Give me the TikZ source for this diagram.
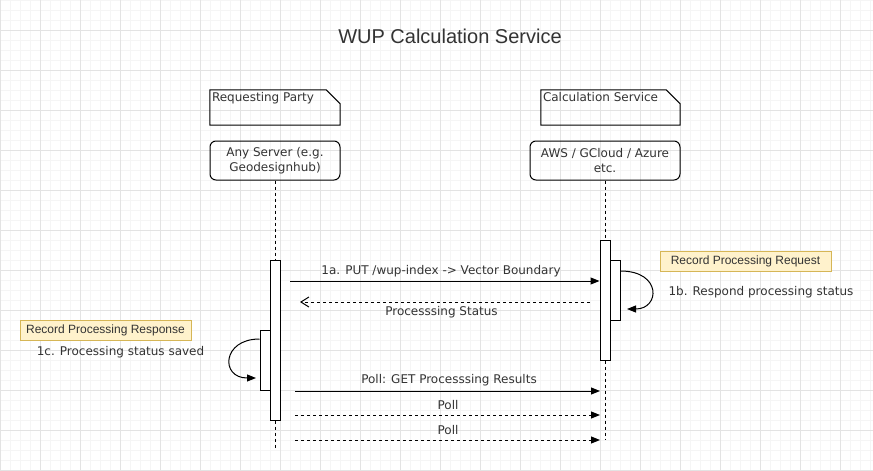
\documentclass[tikz,border=0pt]{standalone}
\usepackage{fontspec}
\setmainfont{Liberation Sans}
\newfontfamily\lblfont{DejaVu Sans}
\usetikzlibrary{arrows.meta}
\definecolor{gridminor}{HTML}{F5F5F5}
\definecolor{gridmajor}{HTML}{E3E3E3}
\definecolor{notefill}{HTML}{FFF2CC}
\definecolor{notedraw}{HTML}{D6B656}
\definecolor{txt}{HTML}{333333}
\tikzset{
  minorgrid/.style={draw=gridminor, line width=0.8pt},
  majorgrid/.style={draw=gridmajor, line width=0.8pt},
  lifebox/.style={draw, rounded corners=6pt, minimum width=130pt, minimum height=39pt, align=center, font=\lblfont\fontsize{12}{14.5}\selectfont, text=txt, inner sep=2pt, line width=1pt},
  notebox/.style={minimum width=130pt, minimum height=35pt, inner sep=0pt},
  notelabel/.style={anchor=north west, font=\lblfont\fontsize{12}{14}\selectfont, text=txt, inner sep=0pt},
  actbar/.style={draw, fill=white, minimum width=10pt, inner sep=0pt, line width=1pt},
  lifeline/.style={line width=1pt, dash pattern=on 3pt off 3pt},
  msg/.style={line width=1pt, -{Triangle[length=9pt,width=7pt]}},
  dmsg/.style={msg, dash pattern=on 3pt off 3pt},
  retmsg/.style={line width=1pt, dash pattern=on 3pt off 3pt, -{Straight Barb[length=8pt,width=10pt]}},
  lbl/.style={font=\lblfont\fontsize{12}{14}\selectfont, text=txt, inner sep=0pt},
  ynote/.style={draw=notedraw, fill=notefill, line width=1pt, font=\fontsize{12}{14}\selectfont, text=txt, minimum height=20pt, inner sep=0pt},
}
\begin{document}
\begin{tikzpicture}[x=1pt,y=-1pt]
\useasboundingbox (0,0) rectangle (873,471);
\fill[white] (0,0) rectangle (873,471);
% grid
\foreach \x in {0,10,...,870} \draw[minorgrid] (\x,0) -- (\x,471);
\foreach \y in {0,10,...,470} \draw[minorgrid] (0,\y) -- (873,\y);
\foreach \x in {0,40,...,840} \draw[majorgrid] (\x,0) -- (\x,471);
\foreach \y in {30,70,...,470} \draw[majorgrid] (0,\y) -- (873,\y);

% title
\node[font=\fontsize{20}{24}\selectfont, text=txt] (title) at (450,36) {WUP Calculation Service};

% notes
\node[notebox] (rp) at (275,107.5) {};
\draw[line width=1pt] (rp.north west) -- ([xshift=-14pt]rp.north east) -- ([yshift=-14pt]rp.north east) -- (rp.south east) -- (rp.south west) -- cycle;
\node[notelabel] (rpt) at ([xshift=2pt,yshift=-2pt]rp.north west) {Requesting Party};

\node[notebox, minimum width=139pt] (cs) at (610.5,107.5) {};
\draw[line width=1pt] (cs.north west) -- ([xshift=-14pt]cs.north east) -- ([yshift=-14pt]cs.north east) -- (cs.south east) -- (cs.south west) -- cycle;
\node[notelabel] (cst) at ([xshift=2pt,yshift=-2pt]cs.north west) {Calculation Service};

% lifeline heads
\node[lifebox] (srv) at (275,160.5) {Any Server (e.g.\\Geodesignhub)};
\node[lifebox, minimum width=150pt] (cld) at (605,160.5) {AWS / GCloud / Azure\\etc.};

% lifelines
\coordinate (lendL) at (275,450);
\coordinate (lendR) at (605,440);
\draw[lifeline] (srv.south) -- (lendL);
\draw[lifeline] (cld.south) -- (lendR);

% activation bars
\node[actbar, minimum height=160pt] (actL) at (275,340) {};
\node[actbar, minimum height=60pt] (actL2) at (265,360) {};
\node[actbar, minimum height=120pt] (actR) at (605,300) {};
\node[actbar, minimum height=60pt] (actR2) at (615,290) {};

% messages
\coordinate (m1s) at (290,281);
\draw[msg] (m1s) -- (m1s -| actR.west);
\node[lbl] (m1l) at (441,271) {1a. PUT /wup-index -> Vector Boundary};

\coordinate (m2s) at (590,302);
\coordinate (m2e) at (300,302);
\draw[retmsg] (m2s) -- (m2e);
\node[lbl] (m2l) at (441.5,312) {Processsing Status};

% self loop right
\coordinate (r1s) at (actR2.east |- 0,271);
\coordinate (r1e) at (627,309);
\draw[msg] (r1s) .. controls (662,271) and (660,309) .. (r1e);
\node[ynote, minimum width=171pt] (rpr) at (745.5,261) {Record Processing Request};
\node[lbl] (r1l) at (761,292) {1b. Respond processing status};

% self loop left
\coordinate (l1s) at (actL2.west |- 0,339);
\coordinate (l1e) at (256,378);
\draw[msg] (l1s) .. controls (222,339) and (220,378) .. (l1e);
\node[ynote, minimum width=171pt] (rprs) at (105.5,330.5) {Record Processing Response};
\node[lbl] (l1l) at (120.5,352) {1c. Processing status saved};

% polls
\coordinate (p1s) at (295,391);
\coordinate (p2s) at (295,415);
\coordinate (p3s) at (295,440);
\coordinate (p1e) at (600,391);
\coordinate (p2e) at (600,415);
\coordinate (p3e) at (600,440);
\draw[msg] (p1s) -- (p1e);
\draw[dmsg] (p2s) -- (p2e);
\draw[dmsg] (p3s) -- (p3e);
\node[lbl] (p1l) at (449,380) {Poll: GET Processsing Results};
\node[lbl] (p2l) at (448,405) {Poll};
\node[lbl] (p3l) at (448,430) {Poll};
\end{tikzpicture}
\end{document}
